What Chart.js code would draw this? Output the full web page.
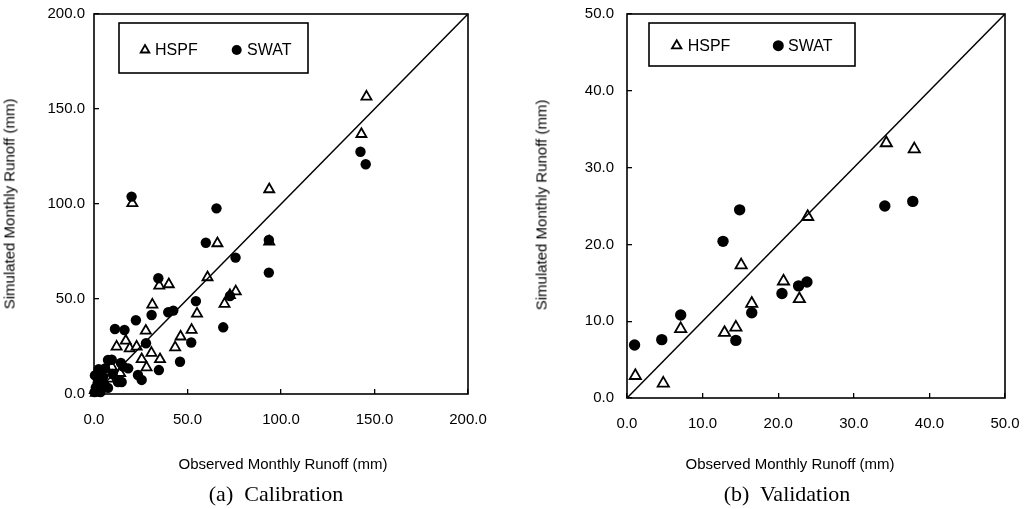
<!DOCTYPE html>
<html><head><meta charset="utf-8">
<script src="https://cdn.jsdelivr.net/npm/chart.js@4/dist/chart.umd.min.js"></script>
<style>
html,body{margin:0;padding:0;background:#fff;}
body{width:1026px;height:509px;position:relative;overflow:hidden;}
.box{position:absolute;top:0;height:509px;}
.t{position:absolute;font-family:"Liberation Sans",Arial,sans-serif;font-size:15px;color:#000;white-space:pre;transform:translate(-50%,-50%);line-height:1;}
.yt{transform:translate(-50%,-50%) rotate(-90deg);}
.cap{font-family:"Liberation Serif","Times New Roman",serif;font-size:22px;}
</style></head><body>
<div class="box" style="left:0;width:500px"><canvas id="c1"></canvas></div>
<div class="box" style="left:513px;width:513px"><canvas id="c2"></canvas></div>
<div class="t yt" style="left:9px;top:204px">Simulated Monthly Runoff (mm)</div>
<div class="t" style="left:283px;top:463px">Observed Monthly Runoff (mm)</div>
<div class="t cap" style="left:276px;top:494px">(a)  Calibration</div>
<div class="t yt" style="left:541px;top:205px">Simulated Monthly Runoff (mm)</div>
<div class="t" style="left:790px;top:463px">Observed Monthly Runoff (mm)</div>
<div class="t cap" style="left:787px;top:494px">(b)  Validation</div>
<script>
// ---- data ----
const seriesNames = ['HSPF', 'SWAT'];

const calTicks = [0, 50, 100, 150, 200];
const calLine = [0, 200];
const calHspfX = [145.7,143.0,93.7,20.5,66.0,60.7,34.9,40.0,93.7,75.8,72.7,69.8,31.2,55.1,27.7,52.2,46.3,43.4,17.0,12.1,19.1,22.8,30.7,25.5,35.3,28.1,9.5,1.0,2.5,4.0,0.5,6.0,3.0,8.0,14.0];
const calHspfY = [156.5,136.8,107.7,100.4,79.3,61.4,57.0,57.7,80.2,54.0,52.0,47.4,47.0,42.3,33.3,33.7,30.2,24.5,28.0,24.9,24.0,24.9,21.6,18.3,18.3,14.0,14.4,0.5,1.5,3.0,2.0,4.5,6.0,8.0,11.0];
const calSwatX = [145.3,142.5,20.1,65.5,59.8,93.5,93.5,75.7,34.4,54.5,72.7,69.1,39.7,42.4,30.8,22.4,11.2,16.3,27.8,52.0,46.0,34.7,25.5,9.5,15.7,18.3,14.8,5.9,0.5,1.0,2.0,3.5,4.8,7.5,7.5,12.8,14.4,23.5,0.3,5.5,10.0,2.5];
const calSwatY = [120.9,127.5,103.9,97.7,79.6,81.1,63.9,71.8,60.9,48.9,51.6,35.1,43.0,43.9,41.6,38.8,34.2,33.7,26.7,27.1,17.0,12.6,7.4,18.0,14.4,13.5,6.3,13.5,9.8,3.5,6.0,1.0,9.0,3.2,17.9,6.3,16.3,10.0,1.0,5.0,10.5,13.0];

const valTicks = [0, 10, 20, 30, 40, 50];
const valLine = [0, 50];
const valHspfX = [34.3,38.0,23.9,15.1,20.7,22.8,16.5,14.4,12.9,7.1,1.1,4.8];
const valHspfY = [33.2,32.4,23.6,17.3,15.2,12.9,12.3,9.2,8.5,9.0,2.9,1.9];
const valSwatX = [34.1,37.8,14.9,12.7,23.8,22.7,20.5,16.5,7.1,14.4,4.6,1.0];
const valSwatY = [25.0,25.6,24.5,20.4,15.1,14.6,13.6,11.1,10.8,7.5,7.6,6.9];

// ---- helpers ----
const pts = (xs, ys) => xs.map((x, i) => ({x: x, y: ys[i]}));

const framePlugin = {
  id: 'frame',
  afterDatasetsDraw(chart) {
    const {ctx, chartArea: a} = chart;
    ctx.save();
    ctx.strokeStyle = '#000';
    ctx.lineWidth = 1.6;
    ctx.strokeRect(a.left, a.top, a.right - a.left, a.bottom - a.top);
    ctx.restore();
  }
};

function drawMarker(ctx, style, r, x, y) {
  ctx.save();
  ctx.beginPath();
  if (style === 'triangle') {
    ctx.moveTo(x, y - r);
    ctx.lineTo(x + r * 0.866, y + r * 0.5);
    ctx.lineTo(x - r * 0.866, y + r * 0.5);
    ctx.closePath();
    ctx.fillStyle = '#fff';
    ctx.fill();
    ctx.lineWidth = 1.8;
    ctx.strokeStyle = '#000';
    ctx.stroke();
  } else {
    ctx.arc(x, y, r, 0, Math.PI * 2);
    ctx.fillStyle = '#000';
    ctx.fill();
  }
  ctx.restore();
}

const boxLegendPlugin = {
  id: 'boxLegend',
  afterDraw(chart, args, o) {
    const {ctx, chartArea: a} = chart;
    ctx.save();
    ctx.strokeStyle = '#000';
    ctx.lineWidth = 1.6;
    ctx.strokeRect(a.left + o.box[0], a.top + o.box[1], o.box[2], o.box[3]);
    ctx.font = o.font;
    ctx.fillStyle = '#000';
    ctx.textBaseline = 'middle';
    o.items.forEach(it => {
      const ds = chart.data.datasets[it.ds];
      drawMarker(ctx, ds.pointStyle, it.r, a.left + it.mx, a.top + o.y);
      ctx.fillText(ds.label, a.left + it.tx, a.top + o.y + 1);
    });
    ctx.restore();
  }
};

function mkScale(ticks, isX, pad) {
  return {
    type: 'linear',
    min: ticks[0], max: ticks[ticks.length - 1],
    afterBuildTicks: s => { s.ticks = ticks.map(v => ({value: v})); },
    afterFit: s => {
      if (isX) s.height = 40; else s.width = 70;
      s.paddingTop = 0; s.paddingBottom = 0; s.paddingLeft = 0; s.paddingRight = 0;
    },
    grid: {drawOnChartArea: false, drawTicks: true, tickLength: -5, color: '#000', lineWidth: 1.3},
    border: {display: false},
    ticks: {
      padding: pad, color: '#000', autoSkip: false, maxRotation: 0,
      font: {family: '"Liberation Sans", Arial, sans-serif', size: 15},
      callback: v => Number(v).toFixed(1)
    }
  };
}

function mkChart(id, hx, hy, sx, sy, line, ticks, cfg) {
  return new Chart(document.getElementById(id), {
    type: 'scatter',
    data: {
      datasets: [
        {label: seriesNames[0], data: pts(hx, hy), pointStyle: 'triangle', pointRadius: cfg.tr, pointHoverRadius: cfg.tr,
         backgroundColor: '#fff', borderColor: '#000', borderWidth: 1.8, order: 2, clip: false},
        {label: seriesNames[1], data: pts(sx, sy), pointStyle: 'circle', pointRadius: cfg.cr, pointHoverRadius: cfg.cr,
         backgroundColor: '#000', borderColor: '#000', borderWidth: 0, order: 1, clip: false},
        {type: 'line', label: '1:1', data: pts(line, line), borderColor: '#000', borderWidth: 1.5, pointRadius: 0, order: 0}
      ]
    },
    options: {
      responsive: true, maintainAspectRatio: false, animation: false,
      layout: {padding: cfg.padding},
      scales: {x: mkScale(ticks, true, cfg.xpad), y: mkScale(ticks, false, cfg.ypad)},
      plugins: {
        legend: {display: false}, tooltip: {enabled: false},
        boxLegend: cfg.legend
      }
    },
    plugins: [framePlugin, boxLegendPlugin]
  });
}

mkChart('c1', calHspfX, calHspfY, calSwatX, calSwatY, calLine, calTicks, {
  tr: 5.8, cr: 5.2,
  padding: {left: 24, top: 14, right: 32, bottom: 75},
  xpad: 22, ypad: 14,
  legend: {box: [25, 9, 189, 50], y: 36, font: '16px "Liberation Sans", Arial, sans-serif',
           items: [{ds: 0, mx: 51, tx: 61, r: 5}, {ds: 1, mx: 142.7, tx: 153, r: 5}]}
});

mkChart('c2', valHspfX, valHspfY, valSwatX, valSwatY, valLine, valTicks, {
  tr: 6.5, cr: 5.7,
  padding: {left: 44, top: 14, right: 21, bottom: 71},
  xpad: 22, ypad: 18,
  legend: {box: [22, 9, 206, 43], y: 31.7, font: '16px "Liberation Sans", Arial, sans-serif',
           items: [{ds: 0, mx: 49.7, tx: 60.7, r: 5.5}, {ds: 1, mx: 151.3, tx: 161, r: 5.5}]}
});
</script>
</body></html>
